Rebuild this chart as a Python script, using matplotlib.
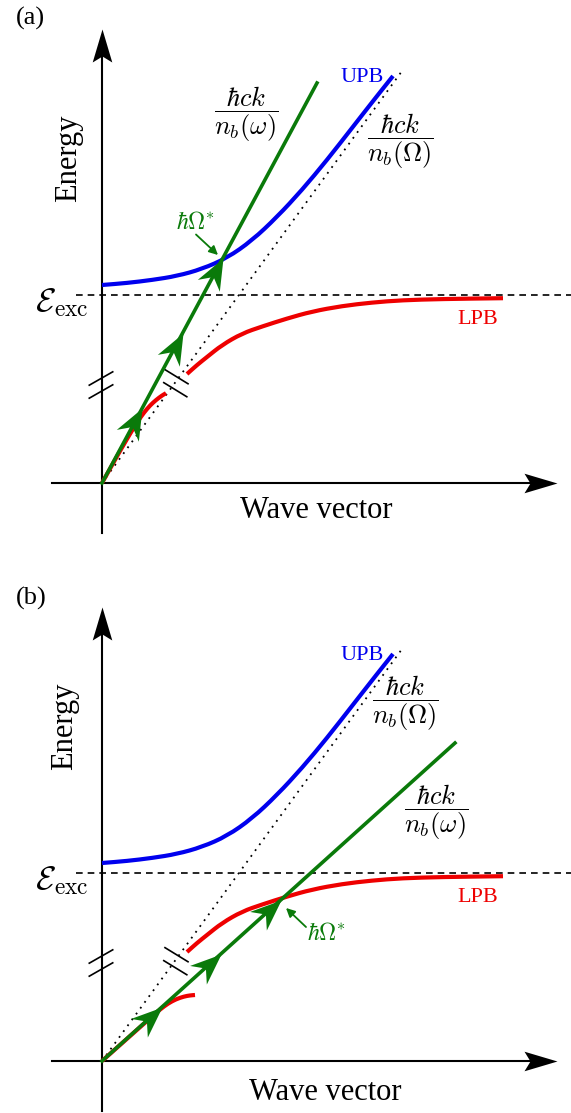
import numpy as np
import matplotlib
matplotlib.use("Agg")
import matplotlib.pyplot as plt
from matplotlib.path import Path
from matplotlib.patches import PathPatch
from matplotlib.markers import MarkerStyle
from matplotlib.transforms import Affine2D

plt.rcParams['mathtext.fontset'] = 'cm'
plt.rcParams['font.family'] = ['Liberation Serif', 'DejaVu Serif']

# ---------------- data (k, E in drawing units, origin at (0, 0)) ----------------
exciton_E = 188.0

upb_k = [0, 25, 50, 75, 100, 125, 150, 175, 200, 225, 250, 275, 291]
upb_E = [198, 200, 203, 207, 214, 225, 242.5, 266, 293, 323, 355, 387, 407]

lpb_k = [85, 95, 105, 120, 140, 160, 185, 210, 240, 270, 300, 340, 401]
lpb_E = [109, 118, 126, 138, 149.5, 156.5, 164.5, 171.5, 177, 180.5, 182.8, 184, 184.8]

lpb_low_a_k = [0, 10, 20, 30, 36, 42, 48, 54, 60, 64]
lpb_low_a_E = [0, 17.8, 35.5, 52.5, 62, 70.5, 77.5, 83, 87.5, 89.8]

lpb_low_b_k = [0, 20, 40, 50, 58, 66, 74, 82, 88, 93]
lpb_low_b_E = [0, 17.8, 35.6, 44.5, 51.5, 57.5, 61.8, 64.5, 65.6, 66]

photon_Omega_k = [0, 300]
photon_Omega_E = [0, 412]

green_a_k = [0, 215]
green_a_E = [0, 400]
green_b_k = [0, 353]
green_b_E = [0, 318]

arrow_tips_a = [40.3, 80.7, 121]
arrow_tips_b = [59.7, 119.3, 179]

axis_k_max = 455
axis_E_max = 454
axis_min = -50

break_E_axis = [91.5, 104.5]
break_k_photon = [73.3, 74.5]
break_E_photon = [93.3, 106.3]

GREEN = '#0a7a0a'
BLUE = '#0000ee'
RED = '#ee0000'


def stealth(length, half, notch):
    verts = [(0, 0), (-length, half), (-length + notch, 0), (-length, -half), (0, 0)]
    codes = [Path.MOVETO, Path.LINETO, Path.LINETO, Path.LINETO, Path.CLOSEPOLY]
    return Path(verts, codes)


def put_arrow(ax, x, y, angle, length, half, notch, color, z):
    m = MarkerStyle(stealth(length, half, notch), transform=Affine2D().rotate_deg(angle))
    ax.plot([x], [y], marker=m, ms=2 * length * 0.72, color=color, mew=0,
            ls='none', zorder=z, clip_on=False)


def seg(ax, cx, cy, angle, length, **kw):
    a = np.deg2rad(angle)
    dx, dy = 0.5 * length * np.cos(a), 0.5 * length * np.sin(a)
    ax.plot([cx - dx, cx + dx], [cy - dy, cy + dy], **kw)


def smooth_curve(ax, xs, ys, **kw):
    """Quadratic-Bezier smoothed curve through the read points."""
    p = np.column_stack([xs, ys]).astype(float)
    verts = [p[0], 0.5 * (p[0] + p[1])]
    codes = [Path.MOVETO, Path.LINETO]
    for i in range(1, len(p) - 1):
        verts += [p[i], 0.5 * (p[i] + p[i + 1])]
        codes += [Path.CURVE3, Path.CURVE3]
    verts.append(p[-1])
    codes.append(Path.LINETO)
    ax.add_patch(PathPatch(Path(verts, codes), fill=False, capstyle='butt',
                           joinstyle='round', **kw))


fig = plt.figure(figsize=(5.71, 11.13), dpi=100)
ax_a = fig.add_axes([0, 0.5, 1, 0.5])
ax_b = fig.add_axes([0, 0.0, 1, 0.5])

ax_a.set_xlim(-102, 469)
ax_a.set_ylim(-73.5, 483)
ax_b.set_xlim(-102, 469)
ax_b.set_ylim(-52, 504.5)


def panel(ax, label, label_xy, energy_xy, wave_xy, lowk, lowE, gk, gE, tips,
          frac_w_xy, frac_O_xy, hb_xy, hb_arrow):
    ax.set_axis_off()
    # axes
    ax.plot([axis_min, axis_k_max - 10], [0, 0], color='k', lw=1.5, zorder=2)
    ax.plot([0, 0], [axis_min, axis_E_max - 10], color='k', lw=1.5, zorder=2)
    put_arrow(ax, axis_k_max, 0, 0, 33, 9.8, 6, 'k', 3)
    put_arrow(ax, 0, axis_E_max, 90, 33, 9.8, 6, 'k', 3)
    # break marks on the energy axis
    for e in break_E_axis:
        seg(ax, -1, e, 29.7, 27, color='k', lw=1.2, zorder=3)
    # exciton level
    ax.plot([-26, 469], [exciton_E, exciton_E], color='k', lw=1.2,
            ls=(0, (4, 3)), zorder=1)
    # photon dispersion (dotted)
    ax.plot(photon_Omega_k, photon_Omega_E, color='k', lw=1.3, ls=(0, (1, 3)),
            zorder=1)
    for kk, ee in zip(break_k_photon, break_E_photon):
        seg(ax, kk, ee, -31.5, 27, color='k', lw=1.2, zorder=3)
    # polariton branches
    smooth_curve(ax, upb_k, upb_E, edgecolor=BLUE, lw=3.0, zorder=4)
    smooth_curve(ax, lpb_k, lpb_E, edgecolor=RED, lw=3.0, zorder=4)
    smooth_curve(ax, lowk, lowE, edgecolor=RED, lw=3.0, zorder=4)
    # light line with arrows
    ax.plot(gk, gE, color=GREEN, lw=2.6, zorder=5)
    slope = gE[1] / gk[1]
    ang = np.degrees(np.arctan2(gE[1], gk[1]))
    for t in tips:
        put_arrow(ax, t, slope * t, ang, 31, 12.5, 10, GREEN, 6)
    # texts
    ax.text(*label_xy, label, fontsize=19, ha='center', va='center')
    ax.text(*energy_xy, 'Energy', fontsize=22, rotation=90, ha='center', va='center')
    ax.text(*wave_xy, 'Wave vector', fontsize=22, ha='center', va='center')
    ax.text(-40, 180, r'$\mathcal{E}_{\rm exc}$', fontsize=24, ha='center', va='center')
    ax.text(260, 405, 'UPB', fontsize=16, color=BLUE, ha='center', va='center')
    ax.text(376, 164, 'LPB', fontsize=16, color=RED, ha='center', va='center')
    ax.text(*frac_w_xy, r'$\dfrac{\hbar c k}{n_b(\omega)}$', fontsize=19,
            ha='center', va='center')
    ax.text(*frac_O_xy, r'$\dfrac{\hbar c k}{n_b(\Omega)}$', fontsize=19,
            ha='center', va='center')
    ax.text(*hb_xy, r'$\hbar\Omega^{*}$', fontsize=17, color=GREEN,
            ha='center', va='center')
    ax.annotate('', xy=hb_arrow[1], xytext=hb_arrow[0],
                arrowprops=dict(arrowstyle='-|>', color=GREEN, lw=1.3,
                                mutation_scale=13, shrinkA=0, shrinkB=0),
                zorder=6)


panel(ax_a, '(a)', (-72, 465), (-33, 325), (214, -28),
      lpb_low_a_k, lpb_low_a_E, green_a_k, green_a_E, arrow_tips_a,
      (144, 369), (298, 342), (94, 260), ((94, 248.5), (116, 228)))
panel(ax_b, '(b)', (-71, 463), (-37, 335), (223, -32),
      lpb_low_b_k, lpb_low_b_E, green_b_k, green_b_E, arrow_tips_b,
      (334, 249), (303, 358), (225, 127), ((204, 134), (184, 153)))

fig.savefig('out.png', dpi=100)
